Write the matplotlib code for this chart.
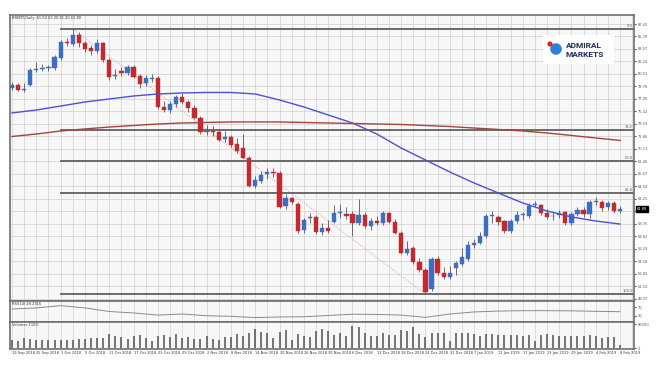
import matplotlib
matplotlib.use("Agg")
import matplotlib.pyplot as plt
import matplotlib.transforms as mtransforms
from matplotlib.patches import Rectangle, Circle

# Данные: дневные свечи BRENT, 19 Sep 2018 - 8 Feb 2019
opens = [78.60, 79.00, 78.30, 79.00, 81.10, 81.25, 81.30, 81.30, 82.70, 84.95,
         84.70, 85.90, 84.80, 84.10, 83.70, 84.80, 82.40, 80.20, 80.90, 80.60,
         81.50, 80.20, 79.20, 79.85, 79.90, 75.90, 75.50, 76.40, 77.30, 76.60,
         75.80, 74.40, 72.50, 72.55, 72.50, 71.50, 71.80, 70.80, 70.30, 68.90,
         65.00, 65.70, 66.60, 66.85, 66.75, 62.20, 63.30, 62.50, 58.90, 60.50,
         60.70, 58.60, 59.20, 60.00, 61.20, 61.10, 61.10, 59.80, 61.00, 59.40,
         60.10, 59.85, 61.20, 60.00, 58.50, 55.70, 56.40, 54.40, 53.30, 50.70,
         54.90, 52.90, 52.40, 53.60, 54.20, 54.90, 56.85, 57.10, 58.00, 60.80,
         60.70, 60.10, 58.70, 60.10, 60.95, 60.80, 62.40, 62.30, 61.20, 60.75,
         61.00, 61.30, 59.80, 61.10, 61.60, 61.10, 62.80, 62.80, 62.00, 62.60,
         61.50]
highs = [79.35, 79.20, 79.30, 81.30, 82.20, 81.90, 81.80, 83.10, 85.20, 85.45,
         86.74, 86.30, 85.10, 84.50, 85.40, 85.00, 82.70, 81.20, 81.50, 81.70,
         81.80, 80.50, 80.30, 80.50, 80.20, 76.80, 76.70, 77.60, 77.80, 76.90,
         76.20, 74.70, 73.40, 73.30, 72.90, 72.60, 72.10, 71.60, 72.20, 69.20,
         66.30, 67.10, 67.40, 67.50, 67.00, 63.80, 63.50, 62.80, 60.60, 61.20,
         61.00, 59.80, 60.30, 62.30, 62.50, 62.00, 61.50, 63.20, 61.40, 60.60,
         60.80, 61.50, 61.40, 60.40, 58.80, 57.30, 56.60, 55.00, 53.60, 55.10,
         55.20, 53.70, 53.90, 54.60, 56.40, 57.30, 57.60, 58.60, 61.10, 61.50,
         61.00, 60.30, 60.40, 61.50, 61.40, 62.60, 62.90, 62.50, 61.80, 61.40,
         61.70, 61.50, 61.30, 62.00, 62.10, 63.00, 63.40, 63.00, 62.90, 62.90,
         62.20]
lows = [78.30, 78.10, 78.00, 78.80, 80.80, 80.90, 80.90, 81.10, 82.50, 84.40,
        84.40, 84.30, 83.60, 83.10, 83.40, 82.20, 79.60, 79.80, 80.20, 80.30,
        79.90, 78.60, 78.90, 79.40, 75.70, 75.20, 75.10, 75.90, 76.30, 75.30,
        74.20, 72.20, 72.00, 71.90, 71.20, 71.10, 70.40, 69.60, 68.80, 64.80,
        64.70, 65.40, 66.00, 66.20, 61.90, 61.80, 62.50, 58.40, 58.50, 59.80,
        58.30, 58.20, 58.40, 59.80, 60.60, 60.40, 58.00, 59.50, 59.20, 58.90,
        59.50, 59.60, 59.80, 58.30, 55.50, 55.40, 54.10, 53.00, 50.00, 50.40,
        52.60, 52.10, 52.10, 52.60, 53.90, 54.60, 56.40, 56.90, 57.80, 59.90,
        59.60, 58.50, 58.50, 59.80, 60.20, 60.60, 62.00, 60.90, 60.40, 60.20,
        60.60, 59.60, 59.50, 60.80, 60.70, 60.50, 62.30, 61.50, 61.60, 61.20,
        61.20]
closes = [79.00, 78.30, 78.45, 81.10, 81.25, 81.35, 81.45, 82.90, 84.90, 84.85,
          85.90, 84.80, 84.00, 83.75, 84.80, 82.40, 80.10, 80.40, 80.60, 81.50,
          80.10, 79.10, 79.90, 79.95, 75.95, 75.50, 76.30, 77.30, 76.60, 75.80,
          74.40, 72.50, 72.55, 72.40, 71.40, 71.80, 70.70, 69.80, 68.90, 65.00,
          65.80, 66.50, 66.85, 66.75, 62.10, 63.30, 62.80, 58.70, 60.20, 60.70,
          58.60, 59.20, 58.70, 61.20, 61.25, 60.85, 59.80, 61.00, 59.40, 60.10,
          59.85, 61.20, 60.00, 58.50, 55.70, 56.20, 54.40, 53.30, 50.30, 54.90,
          52.90, 52.40, 52.90, 54.30, 55.10, 56.80, 57.05, 58.00, 60.80, 60.85,
          60.00, 58.70, 60.10, 61.00, 61.05, 62.20, 62.50, 61.20, 60.70, 60.85,
          61.20, 59.80, 61.10, 61.60, 61.10, 62.80, 62.85, 61.90, 62.60, 61.50,
          61.80]
volumes = [33, 29, 40, 36, 31, 31, 31, 33, 33, 31, 33, 36, 36, 40, 40, 40, 56, 49, 45, 37,
           49, 53, 40, 29, 47, 53, 43, 56, 40, 45, 37, 37, 47, 36, 33, 43, 44, 56, 49, 59,
           77, 64, 61, 40, 64, 73, 33, 56, 47, 44, 69, 76, 69, 53, 60, 47, 87, 83, 60, 47,
           47, 60, 53, 53, 73, 69, 83, 56, 43, 60, 60, 60, 29, 60, 60, 60, 56, 49, 56, 56,
           53, 53, 51, 53, 49, 53, 29, 53, 57, 53, 49, 47, 49, 49, 49, 53, 49, 40, 43, 43,
           11]

# скользящие средние и RSI (значения на каждой 4-й свече)
line_bars = list(range(0, 101, 4))
ma_fast = [75.10, 75.51, 76.06, 76.62, 77.04, 77.45, 77.73, 77.87, 77.94, 77.94,
           77.73, 76.90, 75.93, 74.82, 73.71, 72.18, 70.24, 68.58, 66.92, 65.39,
           64.00, 62.62, 61.51, 60.68, 60.12, 59.70]
ma_slow = [71.84, 72.18, 72.60, 72.88, 73.15, 73.36, 73.57, 73.71, 73.78, 73.85,
           73.85, 73.85, 73.78, 73.71, 73.64, 73.57, 73.50, 73.36, 73.22, 73.01,
           72.81, 72.60, 72.32, 71.98, 71.63, 71.29]
rsi = [62, 67, 78, 67, 50, 43, 33, 38, 30, 27, 21, 24, 25, 31, 37, 36, 33, 22, 38, 48,
       52, 54, 54, 53, 51, 49]

date_labels = ['19 Sep 2018', '25 Sep 2018', '1 Oct 2018', '5 Oct 2018', '11 Oct 2018',
               '17 Oct 2018', '23 Oct 2018', '29 Oct 2018', '2 Nov 2018', '8 Nov 2018',
               '14 Nov 2018', '20 Nov 2018', '26 Nov 2018', '30 Nov 2018', '6 Dec 2018',
               '12 Dec 2018', '18 Dec 2018', '24 Dec 2018', '31 Dec 2018', '7 Jan 2019',
               '11 Jan 2019', '17 Jan 2019', '23 Jan 2019', '29 Jan 2019', '4 Feb 2019',
               '8 Feb 2019']
price_ticks = [87.43, 85.70, 83.97, 82.24, 80.51, 78.78, 77.05, 75.32, 73.59, 71.86,
               70.13, 68.40, 66.67, 64.94, 63.21, 61.48, 59.75, 58.02, 56.29, 54.56,
               52.83, 51.10, 49.37]

fib_high, fib_low = 86.74, 50.00
fib_high_bar, fib_low_bar, fib_start = 10, 68, 8
fib_ratios = [0.0, 38.2, 50.0, 61.8, 100.0]

BLUE = '#3c6fc2'
RED = '#c22a30'
GRID = '#d6d6d6'
FRAME = '#6f6f6f'
FS = 2.6

fig = plt.figure(figsize=(6.6, 3.7), dpi=100)
fig.patch.set_facecolor('white')


def box(l, t, r, b):
    return [l / 660, 1 - b / 370, (r - l) / 660, (b - t) / 370]


ax = fig.add_axes(box(10, 15, 634, 301))
ax_rsi = fig.add_axes(box(10, 301, 634, 322), sharex=ax)
ax_vol = fig.add_axes(box(10, 322, 634, 349), sharex=ax)

bars = list(range(len(closes)))

for a in (ax, ax_rsi, ax_vol):
    a.set_facecolor('#f7f7f7')
    for s in a.spines.values():
        s.set_color(FRAME)
        s.set_linewidth(1.2)
    a.set_xticks(line_bars)
    a.set_xticks(list(range(2, 103, 4)), minor=True)
    a.grid(True, which='both', axis='x', color=GRID, lw=0.6)
    a.set_axisbelow(True)
    a.yaxis.tick_right()
    a.tick_params(axis='y', labelsize=FS, length=1.5, pad=1.5, colors='#555555')
    a.tick_params(axis='x', which='both', length=0)

ax.set_xlim(-0.33, 102.3)

# свечи
for i in bars:
    o, h, l, c = opens[i], highs[i], lows[i], closes[i]
    col = BLUE if c >= o else RED
    ax.vlines(i, l, h, color='#555555', lw=0.6, zorder=3)
    body = max(abs(c - o), 0.12)
    ax.bar(i, body, bottom=min(o, c), width=0.7, color=col,
           edgecolor=col, linewidth=0.3, zorder=4)

ax.plot(line_bars, ma_fast, color='#5050d0', lw=1.0, zorder=5)
ax.plot(line_bars, ma_slow, color='#a4443c', lw=1.0, zorder=5)

# Фибоначчи
ax.plot([fib_high_bar, fib_low_bar], [fib_high, fib_low], color='#e08a8a',
        lw=0.6, ls=':', zorder=2)
for r in fib_ratios:
    lvl = fib_high - (fib_high - fib_low) * r / 100
    ax.plot([fib_start, 102.3], [lvl, lvl], color='#606060', lw=1.3, zorder=2)
    ax.text(102.1, lvl + 0.15, '%.1f' % r, ha='right', va='bottom',
            fontsize=FS, color='#555555', zorder=6)

ax.set_ylim(49.03, 88.68)
ax.set_yticks(price_ticks)
ax.set_yticklabels(['%.2f' % v for v in price_ticks])
ax.grid(True, axis='y', color=GRID, lw=0.6)
ax.tick_params(axis='x', labelbottom=False)

trans = mtransforms.blended_transform_factory(ax.transAxes, ax.transData)
ax.text(1.004, closes[-1], '%.2f' % closes[-1], transform=trans, fontsize=FS,
        color='white', va='center', ha='left', zorder=10,
        bbox=dict(boxstyle='square,pad=0.25', fc='black', ec='black'))

ax.text(0.004, 0.995, 'BRENT,Daily  %.2f %.2f %.2f %.2f' % (opens[-1], highs[-1], lows[-1], closes[-1]),
        transform=ax.transAxes, fontsize=FS, color='#333333', va='top', ha='left')

# логотип
fig.add_artist(Rectangle((543 / 660, 1 - 64 / 370), 71 / 660, 29 / 370,
                         transform=fig.transFigure, fc='white', ec='none', zorder=20))
fig.add_artist(Circle((5.56, 3.70 - 0.49), 0.058, transform=fig.dpi_scale_trans,
                      fc='#2f7fd8', ec='none', zorder=21))
fig.add_artist(Circle((5.50, 3.70 - 0.44), 0.026, transform=fig.dpi_scale_trans,
                      fc='#d8262e', ec='none', zorder=22))
fig.text(566 / 660, 1 - 45 / 370, 'ADMIRAL', fontsize=6.0, fontweight='bold',
         family=['Roboto', 'DejaVu Sans'], color='#1c2b58', va='center', ha='left', zorder=23)
fig.text(566 / 660, 1 - 54.5 / 370, 'MARKETS', fontsize=6.0, fontweight='bold',
         family=['Roboto', 'DejaVu Sans'], color='#1c2b58', va='center', ha='left', zorder=23)

# RSI
ax_rsi.plot(line_bars, rsi, color='#8a8a8a', lw=0.7)
ax_rsi.set_ylim(0, 100)
ax_rsi.set_yticks([70, 30])
ax_rsi.set_yticklabels(['70', '30'])
ax_rsi.tick_params(axis='x', labelbottom=False)
ax_rsi.text(0.004, 0.96, 'RSI(14) %.4f' % 49.2316, transform=ax_rsi.transAxes,
            fontsize=FS, color='#333333', va='top', ha='left')

# объёмы
ax_vol.vlines(bars, 0, volumes, color='#505050', lw=1.1)
ax_vol.set_ylim(-4, 104)
ax_vol.set_yticks([0, 96])
ax_vol.set_yticklabels(['0', '96000'])
ax_vol.set_xticklabels(date_labels)
ax_vol.tick_params(axis='x', labelsize=FS, pad=1.5, colors='#333333')
for lbl in ax_vol.get_xticklabels():
    lbl.set_ha('left')
ax_vol.text(0.004, 0.95, 'Volumes %d' % (volumes[-1] * 100), transform=ax_vol.transAxes,
            fontsize=FS, color='#333333', va='top', ha='left')

fig.savefig('out.png', dpi=100, facecolor='white')
